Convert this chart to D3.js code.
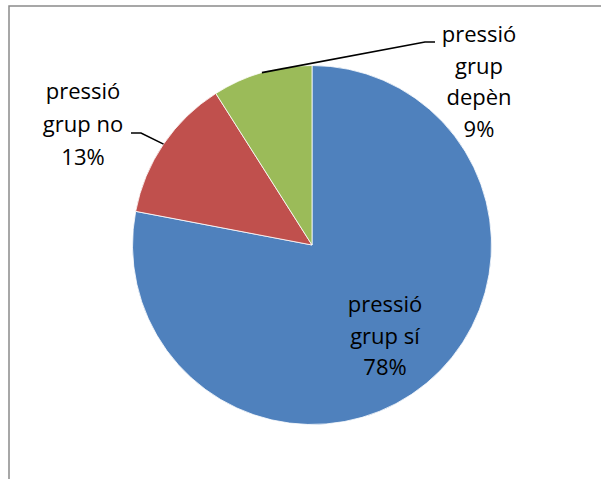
<!DOCTYPE html>
<html>
<head>
<meta charset="utf-8">
<script src="https://cdn.jsdelivr.net/npm/d3@7"></script>
<style>
  html, body { margin: 0; padding: 0; background: #fff; }
  svg { display: block; }
  .lbl { font-family: "Open Sans", "Liberation Sans", sans-serif; font-size: 22px; fill: #000; }
</style>
</head>
<body>
<svg id="chart" width="601" height="479"></svg>
<script>
// Answers to the group-pressure question, in percent
const categories = ["pressió grup sí", "pressió grup no", "pressió grup depèn"];
const values = [78, 13, 9];
const colors = ["#4F81BD", "#C0504D", "#9BBB59"];
// Label text, one entry per line
const labelLines = [
  ["pressió", "grup sí"],
  ["pressió", "grup no"],
  ["pressió", "grup", "depèn"]
];

const svg = d3.select("#chart");
const W = 601, H = 479;
const cx = 312, cy = 245, R = 179.5;

// chart frame
svg.append("rect")
  .attr("x", 9).attr("y", 6)
  .attr("width", W + 20).attr("height", H + 20)
  .attr("fill", "none").attr("stroke", "#8a8a8a").attr("stroke-width", 1.5);

const pie = d3.pie().sort(null).value(d => d)
  .startAngle(0).endAngle(2 * Math.PI);
const arcs = pie(values);
const arc = d3.arc().innerRadius(0).outerRadius(R);

const g = svg.append("g").attr("transform", `translate(${cx},${cy})`);

g.selectAll("path.slice")
  .data(arcs)
  .join("path")
  .attr("class", "slice")
  .attr("d", arc)
  .attr("fill", (d, i) => colors[i])
  .attr("stroke", "#ffffff")
  .attr("stroke-width", 0.8);

// point on the rim at the middle of a slice
function rimMid(d) {
  const a = (d.startAngle + d.endAngle) / 2;
  return [cx + R * Math.sin(a), cy - R * Math.cos(a)];
}

// label placement: centre x and first baseline, plus optional leader elbow
const layout = [
  { x: 385, y: 312, step: 31.5, leader: null },
  { x: 83, y: 99, step: 33, leader: [[141, 133], [131, 133]] },
  { x: 479, y: 42, step: 31.7, leader: [[425, 42], [435, 42]] }
];

arcs.forEach((d, i) => {
  const L = layout[i];
  if (L.leader) {
    const pts = [rimMid(d)].concat(L.leader);
    svg.append("path")
      .attr("d", d3.line()(pts))
      .attr("fill", "none")
      .attr("stroke", "#000")
      .attr("stroke-width", 1.6);
  }
  const lines = labelLines[i].concat([values[i] + "%"]);
  const t = svg.append("text")
    .attr("class", "lbl")
    .attr("text-anchor", "middle");
  lines.forEach((s, k) => {
    t.append("tspan")
      .attr("x", L.x)
      .attr("y", L.y + k * L.step)
      .text(s);
  });
});
</script>
</body>
</html>
